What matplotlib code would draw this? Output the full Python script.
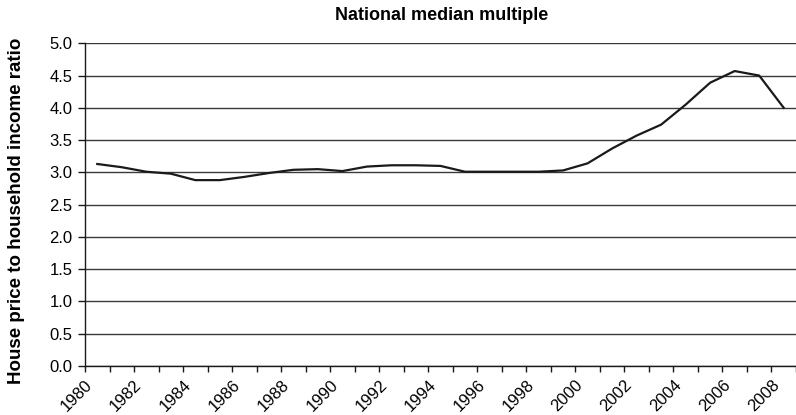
import numpy as np
import matplotlib.pyplot as plt

# Datos
years = list(range(1980, 2009))
ratio = [3.13, 3.08, 3.01, 2.98, 2.88, 2.88, 2.93, 2.99, 3.04, 3.05,
         3.02, 3.09, 3.11, 3.11, 3.10, 3.01, 3.01, 3.01, 3.01, 3.03,
         3.14, 3.37, 3.57, 3.74, 4.05, 4.39, 4.57, 4.50, 4.00]
y_ticks = [0.0, 0.5, 1.0, 1.5, 2.0, 2.5, 3.0, 3.5, 4.0, 4.5, 5.0]
label_years = list(range(1980, 2009, 2))

plt.rcParams['font.family'] = ['Liberation Sans', 'DejaVu Sans']

fig = plt.figure(figsize=(7.96, 4.15), dpi=100)
ax = fig.add_axes([85/796, 1 - 366/415, 1 - 85/796, (366 - 43.3)/415])

# Los puntos van centrados en cada categoría (año)
x = np.array(years) + 0.5
ax.plot(x, ratio, color='#1a1a1a', linewidth=1.6, zorder=3)

ax.set_xlim(1980, 2008.85)
ax.set_ylim(0, 5)
ax.set_yticks(y_ticks)
ax.set_yticklabels([f'{v:.1f}' for v in y_ticks], fontsize=12)
ax.yaxis.grid(True, color='#3a3a3a', linewidth=1.0)
ax.set_axisbelow(True)

ax.set_xticks(years + [2009])
ax.set_xticklabels([str(y) if y in label_years else '' for y in years + [2009]],
                   rotation=45, ha='right', va='top', rotation_mode='anchor',
                   fontsize=12)
ax.tick_params(axis='x', length=4, width=1, color='#1a1a1a', pad=4)
ax.tick_params(axis='y', length=5, width=1, color='#1a1a1a', pad=4)

for s in ['top', 'right']:
    ax.spines[s].set_visible(False)
ax.spines['left'].set_color('#1a1a1a')
ax.spines['bottom'].set_color('#1a1a1a')
ax.spines['left'].set_linewidth(1.0)
ax.spines['bottom'].set_linewidth(1.0)

ax.set_ylabel('House price to household income ratio', fontsize=13.5,
              fontweight='bold')
ax.yaxis.set_label_coords(-(85 - 25) / 711, 0.48)
fig.text(442/796, 1 - 16/415, 'National median multiple', ha='center',
         va='center', fontsize=13, fontweight='bold')

plt.savefig('out.png', dpi=100)
